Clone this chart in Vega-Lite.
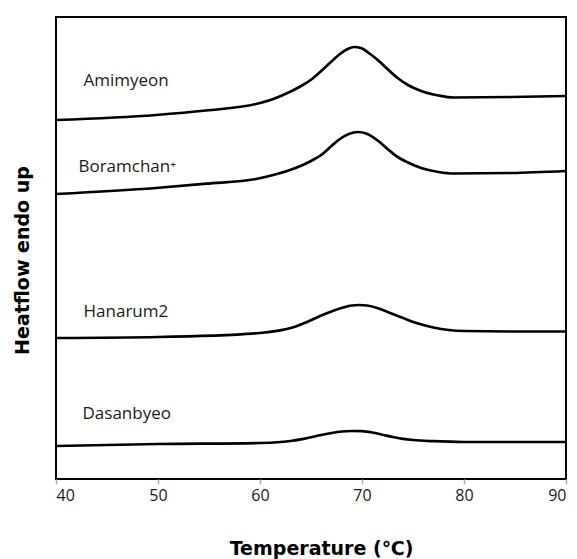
{
  "$schema": "https://vega.github.io/schema/vega-lite/v6.json",
  "autosize": {"type": "none"},
  "padding": {"left": 56, "top": 17, "right": 11, "bottom": 80},
  "width": 510,
  "height": 462,
  "background": "white",
  "config": {
    "view": {"stroke": "#000", "strokeWidth": 2},
    "font": "Open Sans"
  },
  "datasets": {
    "curves": [
      {"sample": "Amimyeon", "T": 40, "v": 359},
      {"sample": "Amimyeon", "T": 49.8, "v": 364},
      {"sample": "Amimyeon", "T": 54.7, "v": 368.5},
      {"sample": "Amimyeon", "T": 59.6, "v": 375},
      {"sample": "Amimyeon", "T": 61.3, "v": 380},
      {"sample": "Amimyeon", "T": 62.8, "v": 386.5},
      {"sample": "Amimyeon", "T": 64.2, "v": 394},
      {"sample": "Amimyeon", "T": 65.1, "v": 400},
      {"sample": "Amimyeon", "T": 66.0, "v": 408},
      {"sample": "Amimyeon", "T": 67.0, "v": 417.5},
      {"sample": "Amimyeon", "T": 67.9, "v": 425.5},
      {"sample": "Amimyeon", "T": 68.6, "v": 430},
      {"sample": "Amimyeon", "T": 69.2, "v": 432},
      {"sample": "Amimyeon", "T": 69.9, "v": 431},
      {"sample": "Amimyeon", "T": 70.6, "v": 426.5},
      {"sample": "Amimyeon", "T": 71.6, "v": 418.5},
      {"sample": "Amimyeon", "T": 72.5, "v": 410},
      {"sample": "Amimyeon", "T": 73.5, "v": 401},
      {"sample": "Amimyeon", "T": 74.5, "v": 394},
      {"sample": "Amimyeon", "T": 75.8, "v": 388},
      {"sample": "Amimyeon", "T": 77.5, "v": 383.5},
      {"sample": "Amimyeon", "T": 79.0, "v": 381.5},
      {"sample": "Amimyeon", "T": 84.6, "v": 382},
      {"sample": "Amimyeon", "T": 90, "v": 383},
      {"sample": "Boramchan", "T": 40, "v": 285},
      {"sample": "Boramchan", "T": 49.8, "v": 291},
      {"sample": "Boramchan", "T": 54.7, "v": 295.3},
      {"sample": "Boramchan", "T": 59.6, "v": 300},
      {"sample": "Boramchan", "T": 61.3, "v": 304},
      {"sample": "Boramchan", "T": 62.8, "v": 308.5},
      {"sample": "Boramchan", "T": 64.2, "v": 314},
      {"sample": "Boramchan", "T": 65.0, "v": 318},
      {"sample": "Boramchan", "T": 66.0, "v": 324},
      {"sample": "Boramchan", "T": 67.0, "v": 333},
      {"sample": "Boramchan", "T": 67.9, "v": 340.5},
      {"sample": "Boramchan", "T": 68.7, "v": 345},
      {"sample": "Boramchan", "T": 69.6, "v": 347},
      {"sample": "Boramchan", "T": 70.4, "v": 345.5},
      {"sample": "Boramchan", "T": 71.6, "v": 338},
      {"sample": "Boramchan", "T": 72.5, "v": 330},
      {"sample": "Boramchan", "T": 73.5, "v": 322},
      {"sample": "Boramchan", "T": 74.5, "v": 316.5},
      {"sample": "Boramchan", "T": 75.8, "v": 311},
      {"sample": "Boramchan", "T": 77.5, "v": 307},
      {"sample": "Boramchan", "T": 79.0, "v": 305.5},
      {"sample": "Boramchan", "T": 84.6, "v": 306},
      {"sample": "Boramchan", "T": 90, "v": 308},
      {"sample": "Hanarum2", "T": 40, "v": 141},
      {"sample": "Hanarum2", "T": 50, "v": 142},
      {"sample": "Hanarum2", "T": 60, "v": 146},
      {"sample": "Hanarum2", "T": 61.5, "v": 147.8},
      {"sample": "Hanarum2", "T": 63.5, "v": 152.5},
      {"sample": "Hanarum2", "T": 64.5, "v": 156.5},
      {"sample": "Hanarum2", "T": 66, "v": 163.5},
      {"sample": "Hanarum2", "T": 67, "v": 167.5},
      {"sample": "Hanarum2", "T": 68, "v": 171},
      {"sample": "Hanarum2", "T": 69, "v": 173.5},
      {"sample": "Hanarum2", "T": 69.7, "v": 174},
      {"sample": "Hanarum2", "T": 70.5, "v": 173.5},
      {"sample": "Hanarum2", "T": 71.5, "v": 171},
      {"sample": "Hanarum2", "T": 72.5, "v": 167},
      {"sample": "Hanarum2", "T": 73.5, "v": 163},
      {"sample": "Hanarum2", "T": 74.5, "v": 159},
      {"sample": "Hanarum2", "T": 75.5, "v": 155.5},
      {"sample": "Hanarum2", "T": 77, "v": 151.5},
      {"sample": "Hanarum2", "T": 78.5, "v": 149},
      {"sample": "Hanarum2", "T": 80, "v": 148},
      {"sample": "Hanarum2", "T": 85, "v": 147.5},
      {"sample": "Hanarum2", "T": 90, "v": 147.5},
      {"sample": "Dasanbyeo", "T": 40, "v": 33},
      {"sample": "Dasanbyeo", "T": 50, "v": 35},
      {"sample": "Dasanbyeo", "T": 60, "v": 36},
      {"sample": "Dasanbyeo", "T": 62, "v": 37},
      {"sample": "Dasanbyeo", "T": 63, "v": 38},
      {"sample": "Dasanbyeo", "T": 64, "v": 39.6},
      {"sample": "Dasanbyeo", "T": 65, "v": 41.8},
      {"sample": "Dasanbyeo", "T": 66, "v": 44},
      {"sample": "Dasanbyeo", "T": 67, "v": 46},
      {"sample": "Dasanbyeo", "T": 68, "v": 47.5},
      {"sample": "Dasanbyeo", "T": 69, "v": 48},
      {"sample": "Dasanbyeo", "T": 70, "v": 47.8},
      {"sample": "Dasanbyeo", "T": 71, "v": 46.5},
      {"sample": "Dasanbyeo", "T": 72, "v": 44.3},
      {"sample": "Dasanbyeo", "T": 73, "v": 42},
      {"sample": "Dasanbyeo", "T": 74, "v": 40.2},
      {"sample": "Dasanbyeo", "T": 75, "v": 39},
      {"sample": "Dasanbyeo", "T": 77, "v": 37.8},
      {"sample": "Dasanbyeo", "T": 80, "v": 37},
      {"sample": "Dasanbyeo", "T": 90, "v": 37}
    ],
    "labels": [
      {"label": "Amimyeon", "T": 42.7, "v": 398},
      {"label": "Boramchan⁺", "T": 42.2, "v": 312},
      {"label": "Hanarum2", "T": 42.7, "v": 167},
      {"label": "Dasanbyeo", "T": 42.6, "v": 65}
    ]
  },
  "layer": [
    {
      "data": {"name": "curves"},
      "mark": {"type": "line", "color": "#000", "strokeWidth": 2.7, "interpolate": "monotone"},
      "encoding": {
        "x": {
          "field": "T", "type": "quantitative",
          "scale": {"domain": [40, 90], "nice": false, "zero": false},
          "axis": {
            "title": "Temperature (℃)",
            "values": [40, 50, 60, 70, 80, 90],
            "domain": false,
            "grid": false,
            "tickColor": "#b0b0b0",
            "tickSize": 5,
            "tickWidth": 1.5,
            "labelFont": "Open Sans",
            "labelFontSize": 16,
            "labelColor": "#1a1a1a",
            "labelPadding": 3,
            "titleFont": "DejaVu Sans",
            "titleFontSize": 19,
            "titleFontWeight": "bold",
            "titleColor": "#000",
            "titlePadding": 36,
            "titleX": 265
          }
        },
        "y": {
          "field": "v", "type": "quantitative",
          "scale": {"domain": [0, 462], "nice": false, "zero": false},
          "axis": {
            "title": "Heatflow endo up",
            "labels": false,
            "ticks": false,
            "domain": false,
            "grid": false,
            "titleFont": "DejaVu Sans",
            "titleFontSize": 19,
            "titleFontWeight": "bold",
            "titleColor": "#000",
            "titlePadding": 24,
            "titleY": 243
          }
        },
        "detail": {"field": "sample"}
      }
    },
    {
      "data": {"name": "labels"},
      "mark": {"type": "text", "align": "left", "baseline": "middle", "font": "Open Sans", "fontSize": 17, "color": "#1a1a1a"},
      "encoding": {
        "x": {"field": "T", "type": "quantitative"},
        "y": {"field": "v", "type": "quantitative"},
        "text": {"field": "label"}
      }
    }
  ]
}
